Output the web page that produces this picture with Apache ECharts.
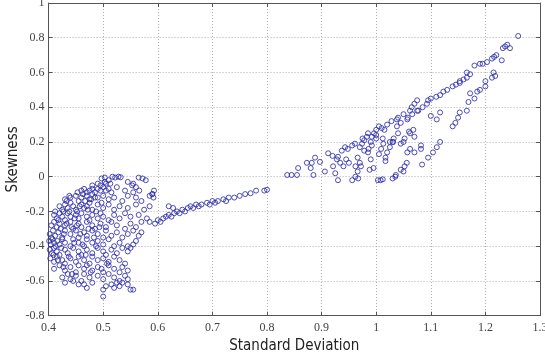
<!DOCTYPE html>
<html>
<head>
<meta charset="utf-8">
<script src="https://cdn.jsdelivr.net/npm/echarts@6/dist/echarts.min.js"></script>
<style>
  html, body { margin: 0; padding: 0; background: #fff; }
  #chart { width: 545px; height: 353px; }
</style>
</head>
<body>
<div id="chart"></div>
<script>
// axis ticks
const xTicks = [0.4, 0.5, 0.6, 0.7, 0.8, 0.9, 1, 1.1, 1.2, 1.3];
const yTicks = [-0.8, -0.6, -0.4, -0.2, 0, 0.2, 0.4, 0.6, 0.8, 1];

// fan-shaped cluster at low standard deviation
const leftCluster = [
  [0.497,-0.01],[0.503,-0.005],[0.51,-0.02],[0.517,0.0],[0.522,-0.005],[0.528,0.0],[0.532,-0.003],
  [0.49,-0.04],[0.495,-0.05],[0.505,-0.04],[0.48,-0.05],
  [0.565,-0.005],[0.572,-0.01],[0.578,-0.02],[0.555,-0.04],[0.56,-0.06],[0.553,-0.05],[0.545,-0.03],
  [0.46,-0.08],[0.465,-0.07],[0.47,-0.09],[0.475,-0.08],[0.48,-0.07],[0.485,-0.09],[0.49,-0.07],
  [0.5,-0.06],[0.505,-0.08],[0.51,-0.07],[0.515,-0.09],[0.525,-0.06],[0.54,-0.08],[0.555,-0.09],
  [0.566,-0.08],[0.593,-0.08],
  [0.43,-0.13],[0.44,-0.12],[0.45,-0.11],[0.455,-0.14],[0.46,-0.12],[0.47,-0.11],[0.475,-0.13],
  [0.48,-0.1],[0.49,-0.12],[0.5,-0.11],[0.51,-0.13],[0.52,-0.12],[0.535,-0.14],[0.545,-0.11],
  [0.56,-0.12],[0.57,-0.14],[0.585,-0.11],[0.59,-0.1],
  [0.42,-0.17],[0.425,-0.19],[0.43,-0.16],[0.435,-0.18],[0.44,-0.15],[0.445,-0.17],[0.45,-0.19],
  [0.46,-0.16],[0.465,-0.18],[0.47,-0.17],[0.475,-0.15],[0.48,-0.19],[0.49,-0.16],[0.5,-0.18],
  [0.51,-0.16],[0.52,-0.19],[0.53,-0.17],[0.545,-0.18],[0.56,-0.16],[0.575,-0.19],[0.585,-0.17],
  [0.41,-0.22],[0.415,-0.24],[0.42,-0.21],[0.425,-0.23],[0.43,-0.25],[0.435,-0.21],[0.44,-0.23],
  [0.45,-0.22],[0.455,-0.24],[0.46,-0.21],[0.47,-0.23],[0.475,-0.25],[0.48,-0.22],[0.49,-0.24],
  [0.495,-0.21],[0.5,-0.23],[0.51,-0.25],[0.52,-0.22],[0.53,-0.24],[0.54,-0.21],[0.55,-0.23],
  [0.565,-0.22],[0.58,-0.24],
  [0.405,-0.28],[0.41,-0.26],[0.415,-0.29],[0.42,-0.27],[0.43,-0.28],[0.44,-0.26],[0.445,-0.3],
  [0.455,-0.27],[0.46,-0.29],[0.47,-0.26],[0.48,-0.28],[0.485,-0.3],[0.495,-0.27],[0.505,-0.29],
  [0.515,-0.26],[0.525,-0.28],[0.54,-0.3],[0.55,-0.27],[0.56,-0.29],[0.57,-0.26],
  [0.402,-0.33],[0.408,-0.31],[0.412,-0.34],[0.418,-0.32],[0.425,-0.35],[0.43,-0.31],[0.44,-0.33],
  [0.45,-0.31],[0.455,-0.35],[0.465,-0.32],[0.47,-0.34],[0.48,-0.31],[0.49,-0.33],[0.5,-0.35],
  [0.505,-0.31],[0.515,-0.34],[0.525,-0.32],[0.535,-0.35],[0.545,-0.33],[0.555,-0.31],[0.565,-0.34],
  [0.57,-0.32],
  [0.401,-0.37],[0.404,-0.39],[0.407,-0.36],[0.41,-0.38],[0.413,-0.4],[0.416,-0.37],[0.42,-0.39],
  [0.425,-0.36],[0.43,-0.38],[0.44,-0.4],[0.445,-0.36],[0.455,-0.38],[0.465,-0.4],[0.47,-0.36],
  [0.48,-0.38],[0.49,-0.37],[0.5,-0.39],[0.51,-0.36],[0.52,-0.4],[0.53,-0.38],[0.545,-0.4],
  [0.555,-0.39],[0.56,-0.37],
  [0.402,-0.42],[0.406,-0.44],[0.41,-0.41],[0.415,-0.43],[0.42,-0.45],[0.43,-0.42],[0.435,-0.44],
  [0.445,-0.41],[0.455,-0.43],[0.46,-0.45],[0.47,-0.42],[0.48,-0.44],[0.49,-0.41],[0.5,-0.43],
  [0.505,-0.45],[0.515,-0.42],[0.525,-0.44],[0.535,-0.41],[0.545,-0.43],[0.55,-0.41],
  [0.403,-0.47],[0.41,-0.49],[0.415,-0.46],[0.425,-0.48],[0.43,-0.5],[0.44,-0.47],[0.45,-0.49],
  [0.455,-0.46],[0.465,-0.48],[0.475,-0.5],[0.48,-0.46],[0.49,-0.48],[0.5,-0.47],[0.51,-0.49],
  [0.52,-0.46],[0.53,-0.48],[0.54,-0.5],
  [0.41,-0.53],[0.42,-0.51],[0.43,-0.54],[0.44,-0.52],[0.45,-0.55],[0.455,-0.51],[0.465,-0.53],
  [0.47,-0.51],[0.48,-0.54],[0.49,-0.52],[0.5,-0.55],[0.51,-0.51],[0.52,-0.53],[0.53,-0.55],
  [0.535,-0.52],[0.545,-0.54],
  [0.425,-0.58],[0.435,-0.56],[0.44,-0.59],[0.45,-0.57],[0.46,-0.6],[0.465,-0.56],[0.475,-0.58],
  [0.49,-0.57],[0.5,-0.59],[0.51,-0.56],[0.52,-0.58],[0.53,-0.6],[0.54,-0.57],[0.545,-0.59],
  [0.43,-0.61],[0.445,-0.6],[0.455,-0.62],[0.465,-0.62],[0.47,-0.64],[0.48,-0.61],[0.5,-0.65],
  [0.5,-0.69],[0.505,-0.63],[0.515,-0.62],[0.52,-0.64],[0.525,-0.61],[0.53,-0.63],[0.55,-0.65],
  [0.555,-0.65],[0.535,-0.61],[0.545,-0.62],
  [0.412,-0.2],[0.418,-0.25],[0.422,-0.3],[0.428,-0.33],[0.433,-0.27],[0.438,-0.2],[0.442,-0.29],
  [0.448,-0.24],[0.452,-0.2],[0.458,-0.33],[0.462,-0.39],[0.468,-0.45],[0.472,-0.19],[0.478,-0.13],
  [0.405,-0.35],[0.409,-0.45],[0.417,-0.48],[0.423,-0.41],[0.427,-0.52],[0.437,-0.46],[0.447,-0.38],
  [0.452,-0.28],[0.457,-0.17],[0.463,-0.1],[0.467,-0.14],[0.473,-0.3],[0.483,-0.35],[0.487,-0.2],
  [0.493,-0.29],[0.497,-0.15],[0.485,-0.12],[0.495,-0.08],[0.503,-0.03],[0.513,-0.04],[0.507,-0.5],
  [0.497,-0.53],[0.487,-0.4],[0.477,-0.55],[0.443,-0.56],[0.433,-0.14],[0.427,-0.2],[0.438,-0.11],
  [0.453,-0.09]
];

// narrow rising band between the two clusters
const bridge = [
  [0.585,-0.26],[0.595,-0.27],[0.6,-0.25],[0.605,-0.26],[0.61,-0.24],[0.615,-0.23],[0.62,-0.22],
  [0.625,-0.23],[0.63,-0.21],[0.635,-0.2],[0.64,-0.21],[0.645,-0.19],[0.65,-0.2],[0.655,-0.18],
  [0.66,-0.17],[0.665,-0.18],[0.67,-0.16],[0.675,-0.17],[0.68,-0.16],[0.69,-0.15],[0.695,-0.16],
  [0.7,-0.14],[0.705,-0.15],[0.71,-0.14],[0.72,-0.13],[0.725,-0.14],[0.73,-0.12],[0.74,-0.12],
  [0.75,-0.11],[0.76,-0.1],[0.77,-0.095],[0.78,-0.08],[0.795,-0.08],[0.8,-0.075],
  [0.59,-0.1],[0.592,-0.12],[0.62,-0.17],[0.628,-0.18]
];

// wedge-shaped cluster at high standard deviation
const rightCluster = [
  [0.837,0.01],[0.845,0.01],[0.855,0.01],[0.857,0.05],[0.873,0.08],[0.882,0.08],[0.88,0.05],
  [0.888,0.11],[0.897,0.085],[0.885,0.01],[0.906,0.03],[0.912,0.135],[0.92,0.12],[0.93,0.115],
  [0.921,0.06],[0.928,0.1],[0.934,0.08],[0.925,0.02],[0.93,-0.02],[0.937,0.15],[0.943,0.17],
  [0.948,0.16],[0.94,0.06],[0.945,0.1],[0.95,0.08],[0.956,0.18],[0.961,0.19],[0.956,-0.02],
  [0.962,0.0],[0.967,-0.01],[0.962,0.06],[0.966,0.11],[0.97,0.08],[0.974,0.19],[0.978,0.21],
  [0.983,0.23],[0.985,0.14],[0.986,0.16],[0.988,0.04],[0.992,0.23],[0.996,0.25],[1.0,0.24],
  [1.0,0.27],[1.005,0.29],[1.01,0.28],[1.003,-0.02],[1.008,-0.02],[1.012,-0.015],[1.005,0.13],
  [1.009,0.16],[1.013,0.19],[1.02,0.3],[1.028,0.32],[1.038,0.33],[1.025,0.2],[1.032,0.22],
  [1.04,0.25],[1.03,-0.01],[1.036,0.01],[1.04,0.34],[1.05,0.36],[1.062,0.38],[1.045,0.19],
  [1.052,0.22],[1.06,0.26],[1.05,0.03],[1.052,0.06],[1.065,0.4],[1.07,0.42],[1.075,0.44],
  [1.07,0.23],[1.07,0.14],
  [0.97,0.17],[0.975,0.22],[0.99,0.2],[0.985,0.25],[0.995,0.05],[0.99,0.1],[0.992,0.18],
  [0.972,0.06],[0.978,0.15],[0.966,0.03],[1.0,0.22],[1.012,0.22],[1.015,0.27],
  [1.02,0.14],[1.025,0.17],[1.03,0.2],[1.017,0.09],[1.017,0.11],[1.035,0.0],[1.045,0.04],
  [1.056,0.08],[1.057,0.14],[1.062,0.16],[1.062,0.25],[1.068,0.27],[1.05,0.2],[1.031,0.2],
  [1.038,0.29],[1.045,0.31],[1.057,0.33],[1.058,0.34],[1.066,0.36],[1.075,0.38],
  [1.077,0.38],[1.085,0.4],[1.093,0.42],[1.082,0.16],[1.082,0.18],[1.084,0.07],[1.095,0.11],
  [1.104,0.14],[1.111,0.17],[1.117,0.2],[1.1,0.35],[1.111,0.33],[1.117,0.37],
  [1.095,0.44],[1.1,0.45],[1.11,0.46],[1.117,0.47],[1.123,0.49],[1.13,0.5],
  [1.14,0.52],[1.146,0.53],[1.153,0.54],[1.153,0.55],[1.16,0.56],[1.166,0.57],[1.166,0.6],
  [1.172,0.59],[1.14,0.29],[1.145,0.31],[1.15,0.34],[1.153,0.37],[1.166,0.38],[1.169,0.43],
  [1.172,0.48],[1.18,0.45],[1.185,0.49],[1.19,0.5],[1.2,0.52],[1.2,0.55],[1.212,0.57],
  [1.215,0.6],[1.218,0.58],[1.18,0.64],[1.19,0.65],[1.195,0.65],[1.203,0.66],
  [1.212,0.68],[1.216,0.69],[1.22,0.7],[1.23,0.67],[1.232,0.74],[1.236,0.75],[1.24,0.76],
  [1.245,0.74],[1.26,0.81]
];

const series = [leftCluster, bridge, rightCluster];

const chart = echarts.init(document.getElementById('chart'));

const tickFont = { fontFamily: 'Liberation Serif', fontSize: 12, color: '#444' };
const nameFont = { fontFamily: "'DejaVu Sans Condensed', 'Liberation Sans Narrow', 'Liberation Sans', sans-serif", fontSize: 15, color: '#222' };
const frameLine = { show: true, onZero: false, lineStyle: { color: '#555', width: 1 } };
const inTicks = { show: true, inside: true, length: 4, lineStyle: { color: '#555' } };
const dotted = { show: true, lineStyle: { color: '#b0b0b0', type: [1, 2], width: 1 } };

chart.setOption({
  animation: false,
  grid: { left: 48.6, right: 5, top: 3, bottom: 37.3, outerBoundsMode: 'none', containLabel: false },
  xAxis: [
    {
      type: 'value', min: xTicks[0], max: xTicks[xTicks.length - 1], interval: 0.1,
      name: 'Standard Deviation', nameLocation: 'middle', nameGap: 19,
      nameTextStyle: nameFont,
      axisLine: frameLine, axisTick: inTicks,
      axisLabel: Object.assign({ margin: 6 }, tickFont),
      splitLine: dotted
    },
    {
      type: 'value', position: 'top', min: xTicks[0], max: xTicks[xTicks.length - 1], interval: 0.1,
      axisLine: frameLine, axisTick: inTicks,
      axisLabel: { show: false }, splitLine: { show: false }
    }
  ],
  yAxis: [
    {
      type: 'value', min: yTicks[0], max: yTicks[yTicks.length - 1], interval: 0.2,
      name: 'Skewness', nameLocation: 'middle', nameGap: 28, nameMoveOverlap: false,
      nameTextStyle: nameFont,
      axisLine: frameLine, axisTick: inTicks,
      axisLabel: Object.assign({ margin: 4 }, tickFont),
      splitLine: dotted
    },
    {
      type: 'value', position: 'right', min: yTicks[0], max: yTicks[yTicks.length - 1], interval: 0.2,
      axisLine: frameLine, axisTick: inTicks,
      axisLabel: { show: false }, splitLine: { show: false }
    }
  ],
  series: series.map(function (d) {
    return {
      type: 'scatter',
      data: d,
      symbol: 'circle',
      symbolSize: 5,
      itemStyle: { color: 'rgba(255,255,255,0)', borderColor: '#3030a8', borderWidth: 1, opacity: 0.85 }
    };
  })
});
</script>
</body>
</html>
